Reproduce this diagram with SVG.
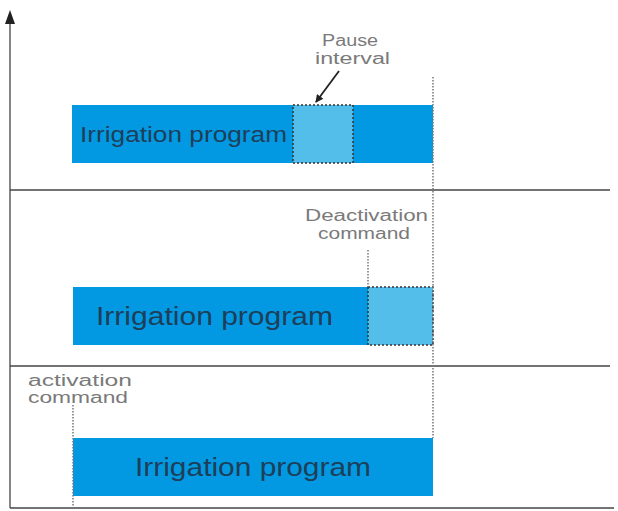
<svg xmlns="http://www.w3.org/2000/svg" width="618" height="511" viewBox="0 0 618 511">
<style>
.bar{fill:#0399e2}
.pause{fill:#52bee9;stroke:#333;stroke-width:1.5;stroke-dasharray:2 2}
.bt{font-family:"Liberation Sans",Arial,sans-serif;fill:#1d3f5a}
.lbl{font-family:"Liberation Sans",Arial,sans-serif;font-size:16px;fill:#7a7a7a}
.sep{stroke:#444;stroke-width:1.3;fill:none}
.dot{stroke:#777;stroke-width:1.5;stroke-dasharray:1.5 1.5;fill:none}
</style>
<defs>
<marker id="ah" markerWidth="8" markerHeight="8" refX="7" refY="4" orient="auto" markerUnits="userSpaceOnUse">
<path d="M0,0 L8,4 L0,8 Z" fill="#222"/>
</marker>
</defs>
<g id="axes">
<line class="sep" x1="10" y1="22" x2="10" y2="508"/>
<path d="M5,24 L10,10 L15,24 Z" fill="#222"/>
<line class="sep" x1="10" y1="508" x2="614" y2="508"/>
<line class="sep" x1="10" y1="190" x2="610" y2="190"/>
<line class="sep" x1="10" y1="366" x2="610" y2="366"/>
</g>
<g id="program1">
<rect class="bar" x="72" y="105" width="361" height="58"/>
<rect class="pause" x="293" y="105" width="60" height="58"/>
<text class="bt" x="80" y="142" font-size="22" textLength="207" lengthAdjust="spacingAndGlyphs">Irrigation program</text>
</g>
<g id="pause-label">
<text class="lbl" x="322" y="46" textLength="56" lengthAdjust="spacingAndGlyphs">Pause</text>
<text class="lbl" x="315" y="64" textLength="75" lengthAdjust="spacingAndGlyphs">interval</text>
</g>
<g id="program2">
<rect class="bar" x="73" y="287" width="360" height="58"/>
<rect class="pause" x="368" y="287" width="65" height="58"/>
<text class="bt" x="96" y="325" font-size="25" textLength="237" lengthAdjust="spacingAndGlyphs">Irrigation program</text>
</g>
<g id="deactivation-label">
<text class="lbl" x="305" y="221" textLength="123" lengthAdjust="spacingAndGlyphs">Deactivation</text>
<text class="lbl" x="318" y="239" textLength="92" lengthAdjust="spacingAndGlyphs">command</text>
</g>
<g id="program3">
<rect class="bar" x="73" y="438" width="360" height="58"/>
<text class="bt" x="135" y="476" font-size="25" textLength="236" lengthAdjust="spacingAndGlyphs">Irrigation program</text>
</g>
<g id="activation-label">
<text class="lbl" x="28" y="386" textLength="104" lengthAdjust="spacingAndGlyphs">activation</text>
<text class="lbl" x="28" y="403" textLength="100" lengthAdjust="spacingAndGlyphs">command</text>
</g>
<g id="connectors">
<line class="dot" x1="433" y1="77" x2="433" y2="438"/>
<line class="dot" x1="368" y1="250" x2="368" y2="287"/>
<line class="dot" x1="73" y1="405" x2="73" y2="508"/>
<line x1="339" y1="71" x2="316" y2="102" stroke="#222" stroke-width="1.8" marker-end="url(#ah)"/>
</g>
</svg>
